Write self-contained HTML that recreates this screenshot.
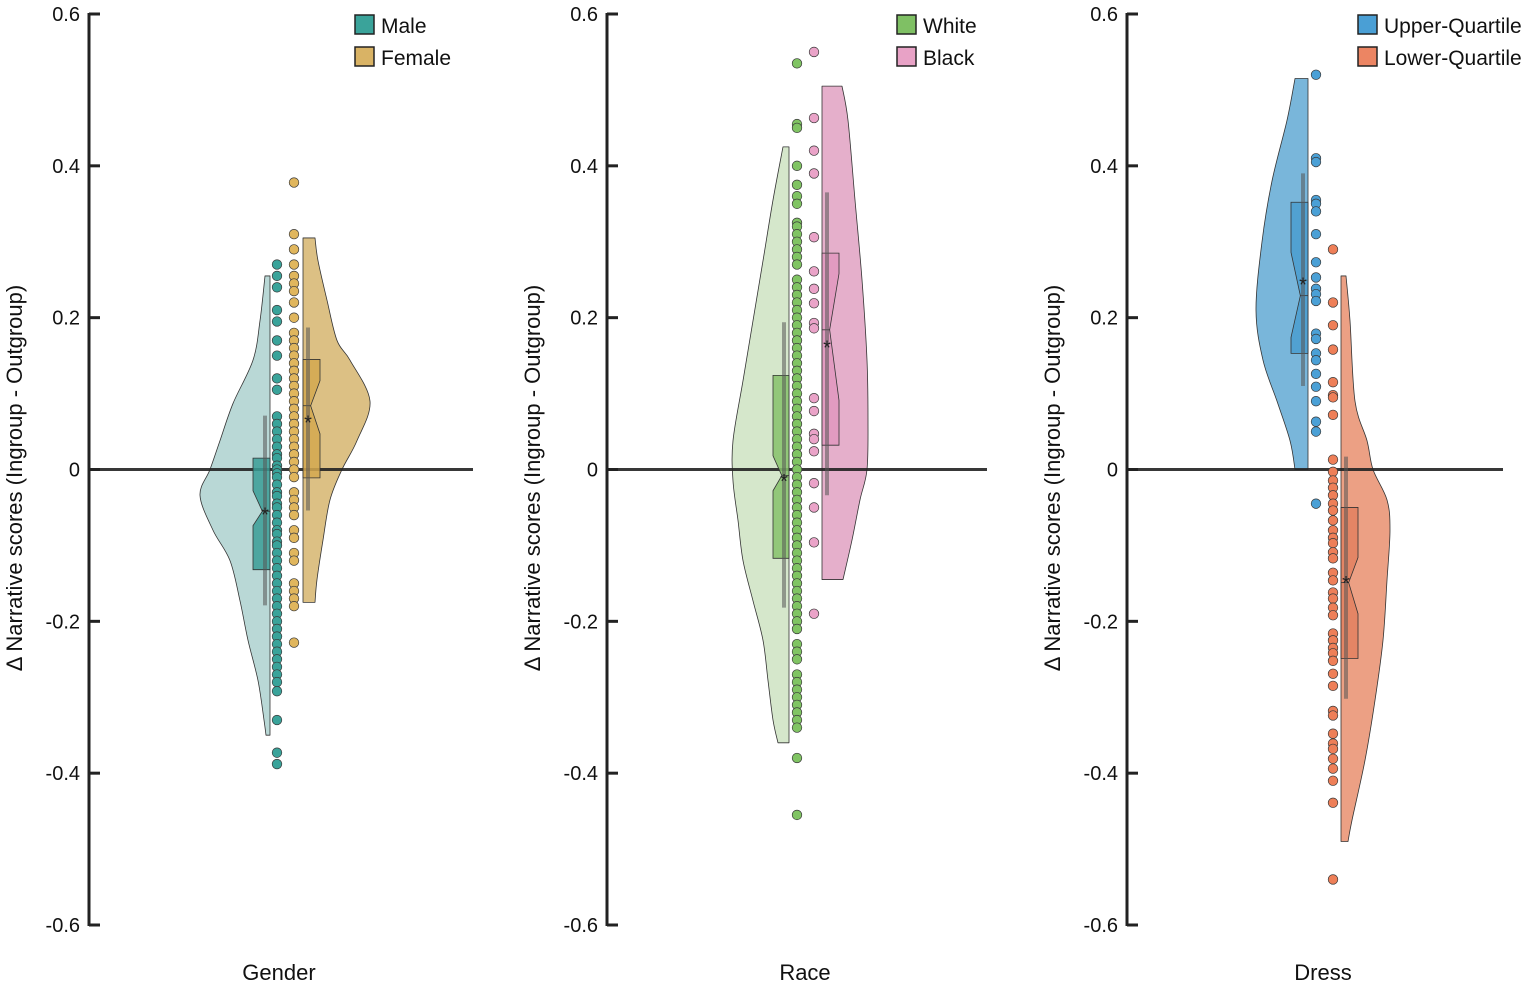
<!DOCTYPE html>
<html><head><meta charset="utf-8">
<style>
html,body{margin:0;padding:0;background:#fff;}
svg{display:block;font-family:"Liberation Sans",sans-serif;}
</style></head>
<body>
<svg id="chart" width="1535" height="988" viewBox="0 0 1535 988"></svg>
<script>
// ---- data ----
const panelNames = ["Gender","Race","Dress"];
const groupNames = ["Male","Female","White","Black","Upper-Quartile","Lower-Quartile"];
const yTicks = [0.6,0.4,0.2,0,-0.2,-0.4,-0.6];
const yTickLabels = ["0.6","0.4","0.2","0","-0.2","-0.4","-0.6"];

const maleDots = [0.27,0.255,0.24,0.21,0.195,0.17,0.15,0.12,0.105,0.07,0.06,0.05,0.04,0.03,0.02,0.015,0.005,0,-0.005,-0.01,-0.02,-0.03,-0.035,-0.045,-0.05,-0.06,-0.07,-0.08,-0.085,-0.095,-0.1,-0.11,-0.12,-0.13,-0.14,-0.15,-0.16,-0.17,-0.18,-0.19,-0.2,-0.21,-0.22,-0.23,-0.24,-0.25,-0.26,-0.27,-0.28,-0.292,-0.33,-0.373,-0.388];
const femaleDots = [0.378,0.31,0.29,0.27,0.255,0.245,0.235,0.22,0.2,0.18,0.17,0.16,0.15,0.14,0.13,0.12,0.11,0.1,0.09,0.08,0.07,0.06,0.05,0.04,0.03,0.02,0.01,0.0,-0.01,-0.03,-0.04,-0.05,-0.06,-0.08,-0.09,-0.11,-0.12,-0.15,-0.16,-0.17,-0.18,-0.228];
const whiteDots = [0.535,0.455,0.45,0.4,0.375,0.36,0.35,0.325,0.32,0.31,0.3,0.29,0.28,0.27,0.25,0.24,0.23,0.22,0.21,0.2,0.19,0.18,0.17,0.16,0.15,0.14,0.13,0.12,0.11,0.1,0.09,0.08,0.07,0.06,0.05,0.04,0.03,0.02,0.01,0,-0.01,-0.02,-0.03,-0.04,-0.05,-0.06,-0.07,-0.08,-0.09,-0.1,-0.11,-0.12,-0.13,-0.14,-0.15,-0.16,-0.17,-0.18,-0.19,-0.2,-0.21,-0.23,-0.24,-0.25,-0.27,-0.28,-0.29,-0.3,-0.31,-0.32,-0.33,-0.34,-0.38,-0.455];
const blackDots = [0.55,0.463,0.42,0.39,0.306,0.261,0.238,0.219,0.193,0.186,0.094,0.077,0.047,0.04,0.024,-0.018,-0.05,-0.096,-0.19];
const upperDots = [0.52,0.41,0.405,0.355,0.35,0.34,0.31,0.273,0.253,0.238,0.231,0.222,0.179,0.172,0.153,0.144,0.126,0.109,0.09,0.063,0.05,-0.045];
const lowerDots = [0.29,0.22,0.19,0.158,0.115,0.098,0.095,0.072,0.013,-0.003,-0.0145,-0.024,-0.034,-0.045,-0.054,-0.067,-0.08,-0.09,-0.097,-0.109,-0.117,-0.136,-0.146,-0.162,-0.17,-0.182,-0.192,-0.216,-0.225,-0.235,-0.242,-0.252,-0.269,-0.285,-0.318,-0.324,-0.348,-0.361,-0.368,-0.381,-0.394,-0.41,-0.439,-0.54];

// violin density profiles (value, relative density)
const maleVioVals = [0.255,0.196,0.144,0.087,0.038,0,-0.034,-0.08,-0.12,-0.173,-0.225,-0.278,-0.33,-0.35];
const maleVioDens = [5,10,17,37,50,60,70,57,40,30,22,12,6,4];
const femaleVioVals = [0.305,0.275,0.223,0.17,0.144,0.09,0.038,0,-0.04,-0.093,-0.145,-0.175];
const femaleVioDens = [12,15,24,34,47,67,54,39,27,20,14,12];
const whiteVioVals = [0.425,0.355,0.275,0.196,0.117,0.038,-0.015,-0.067,-0.12,-0.173,-0.225,-0.278,-0.33,-0.36];
const whiteVioDens = [6,16,26,36,46,56,56,51,46,36,26,21,16,11];
const blackVioVals = [0.505,0.46,0.355,0.25,0.144,0.065,0,-0.04,-0.093,-0.145];
const blackVioDens = [20,26,33,40,45,46,45,38,30,21];
const upperVioVals = [0.515,0.46,0.38,0.3,0.21,0.144,0.09,0.038,0];
const upperVioDens = [13,21,36,46,52,45,31,18,13];
const lowerVioVals = [0.255,0.196,0.09,0.038,0,-0.04,-0.08,-0.146,-0.225,-0.304,-0.383,-0.462,-0.49];
const lowerVioDens = [5,9,14,26,32,46,49,46,42,34,24,11,7];

// box stats: [q3, q1, median, notchHi, notchLo, whiskerHi, whiskerLo, mean]
const maleBox = [0.015,-0.132,-0.055,-0.028,-0.074,0.071,-0.179,-0.054];
const femaleBox = [0.145,-0.011,0.084,0.117,0.047,0.187,-0.054,0.067];
const whiteBox = [0.124,-0.117,-0.008,0.018,-0.028,0.194,-0.182,-0.01];
const blackBox = [0.285,0.032,0.184,0.258,0.091,0.365,-0.034,0.166];
const upperBox = [0.352,0.153,0.229,0.286,0.174,0.39,0.11,0.249];
const lowerBox = [-0.05,-0.249,-0.149,-0.116,-0.19,0.017,-0.302,-0.144];

// ---- layout ----
const NS="http://www.w3.org/2000/svg";
const svg=document.getElementById("chart");
const yTop=14,yBot=925,vMax=0.6,vMin=-0.6;
function Y(v){return yTop+(vMax-v)/(vMax-vMin)*(yBot-yTop);}
function mk(tag,attrs,parent){const e=document.createElementNS(NS,tag);for(const k in attrs)e.setAttribute(k,attrs[k]);(parent||svg).appendChild(e);return e;}
function smoothPath(pts){
  let d=` L${pts[0][0]},${pts[0][1]}`;
  for(let i=0;i<pts.length-1;i++){
    const p0=pts[Math.max(0,i-1)],p1=pts[i],p2=pts[i+1],p3=pts[Math.min(pts.length-1,i+2)];
    const c1=[p1[0]+(p2[0]-p0[0])/6,p1[1]+(p2[1]-p0[1])/6];
    const c2=[p2[0]-(p3[0]-p1[0])/6,p2[1]-(p3[1]-p1[1])/6];
    d+=` C${c1[0]},${c1[1]} ${c2[0]},${c2[1]} ${p2[0]},${p2[1]}`;
  }
  return d;
}

const panels=[
 {axisX:89,zeroEnd:473,labelRight:80,titleX:279,legX:355,
  groups:[
   {name:"male",side:-1,base:270,dotX:277,vVals:maleVioVals,vDens:maleVioDens,box:maleBox,boxW:17,dots:maleDots,vio:"#b9d8d6",boxc:"#3a9e96",dot:"#3aa39a",leg:"#3aa39a"},
   {name:"female",side:1,base:303,dotX:294,vVals:femaleVioVals,vDens:femaleVioDens,box:femaleBox,boxW:17,dots:femaleDots,vio:"#dcc084",boxc:"#d4a84f",dot:"#e0b65d",leg:"#d9b365"}]},
 {axisX:607,zeroEnd:987,labelRight:598,titleX:805,legX:897,
  groups:[
   {name:"white",side:-1,base:789,dotX:797,vVals:whiteVioVals,vDens:whiteVioDens,box:whiteBox,boxW:16,dots:whiteDots,vio:"#d5e7cb",boxc:"#86c16b",dot:"#80c463",leg:"#7fc064"},
   {name:"black",side:1,base:822,dotX:814,vVals:blackVioVals,vDens:blackVioDens,box:blackBox,boxW:17,dots:blackDots,vio:"#e5afcb",boxc:"#e298bf",dot:"#eaa3c8",leg:"#e8a2c6"}]},
 {axisX:1127,zeroEnd:1503,labelRight:1118,titleX:1323,legX:1358,
  groups:[
   {name:"upper-quartile",side:-1,base:1308,dotX:1316,vVals:upperVioVals,vDens:upperVioDens,box:upperBox,boxW:17,dots:upperDots,vio:"#79b6da",boxc:"#4a9dcf",dot:"#4aa0d6",leg:"#4a9fd5"},
   {name:"lower-quartile",side:1,base:1341,dotX:1333,vVals:lowerVioVals,vDens:lowerVioDens,box:lowerBox,boxW:17,dots:lowerDots,vio:"#eca084",boxc:"#e3805f",dot:"#ee7f58",leg:"#ec8563"}]}
];

panels.forEach((p,pi)=>{
  const g=mk("g",{});
  
  
  const ax=mk("line",{x1:p.axisX,y1:yTop-1,x2:p.axisX,y2:yBot+1,stroke:"#222","stroke-width":3},g);
  
  
  yTicks.forEach((v,i)=>{
    const t=mk("line",{x1:p.axisX,y1:Y(v),x2:p.axisX+11,y2:Y(v),stroke:"#222","stroke-width":3},g);
    
    
    const tl=mk("text",{x:p.labelRight,y:Y(v)+7,"text-anchor":"end","font-size":20,fill:"#111"},g);
    tl.textContent=yTickLabels[i];
    
    
  });
  const yt=mk("text",{x:0,y:0,"text-anchor":"middle","font-size":22,fill:"#111",transform:`translate(${p.axisX-67},${478}) rotate(-90)`},g);
  yt.textContent="Δ Narrative scores (Ingroup - Outgroup)";
  
  
  const xt=mk("text",{x:p.titleX,y:980,"text-anchor":"middle","font-size":22,fill:"#111"},g);
  xt.textContent=panelNames[pi];
  
  

  p.groups.forEach(gr=>{
    const pts=gr.vVals.map((v,i)=>[gr.base+gr.side*gr.vDens[i],Y(v)]);
    let d=`M${gr.base},${Y(gr.vVals[0])}`+smoothPath(pts)+` L${gr.base},${Y(gr.vVals[gr.vVals.length-1])} Z`;
    const vp=mk("path",{d:d,fill:gr.vio,stroke:"#333","stroke-width":0.8,"stroke-linejoin":"round"},g);
    
    
  });
  const z=mk("line",{x1:p.axisX,y1:Y(0),x2:p.zeroEnd,y2:Y(0),stroke:"#222","stroke-width":3,"stroke-opacity":0.9},g);
  
  

  p.groups.forEach(gr=>{
    const b=gr.box;
    const inner=gr.base, outer=gr.base+gr.side*gr.boxW, pinch=gr.base+gr.side*gr.boxW*0.45;
    const d=`M${inner},${Y(b[0])} L${outer},${Y(b[0])} L${outer},${Y(b[3])} L${pinch},${Y(b[2])} L${outer},${Y(b[4])} L${outer},${Y(b[1])} L${inner},${Y(b[1])} Z`;
    const bx=mk("path",{d:d,fill:gr.boxc,"fill-opacity":0.85,stroke:"#333","stroke-width":0.8},g);
    
    
    const ml=mk("line",{x1:inner,y1:Y(b[2]),x2:pinch,y2:Y(b[2]),stroke:"#333","stroke-width":0.8},g);
    
    
    const wx=gr.base+gr.side*5;
    const wk=mk("line",{x1:wx,y1:Y(b[5]),x2:wx,y2:Y(b[6]),stroke:"#555","stroke-width":4,"stroke-opacity":0.55},g);
    
    
    const mn=mk("text",{x:wx,y:Y(b[7])+11,"text-anchor":"middle","font-size":20,fill:"#222"},g);
    mn.textContent="*";
    
    
  });
  p.groups.forEach(gr=>{
    gr.dots.forEach(v=>{
      const c=mk("circle",{cx:gr.dotX,cy:Y(v),r:4.8,fill:gr.dot,stroke:"#3a3a3a","stroke-width":0.7},g);
      
      
    });
  });
  p.groups.forEach((gr,gi)=>{
    const ly=15+gi*32;
    const sw=mk("rect",{x:p.legX,y:ly,width:19,height:19,fill:gr.leg,stroke:"#222","stroke-width":1.5},g);
    
    
    const lt=mk("text",{x:p.legX+26,y:ly+18,"font-size":21,fill:"#111"},g);
    lt.textContent=groupNames[pi*2+gi];
    
    
  });
});
</script>
</body></html>
